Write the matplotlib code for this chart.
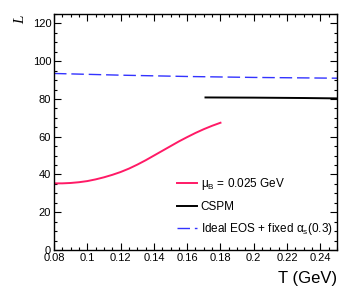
import matplotlib
matplotlib.use("Agg")
import matplotlib.pyplot as plt
from matplotlib.ticker import MultipleLocator

plt.rcParams['font.family'] = ['Liberation Sans', 'DejaVu Sans']
plt.rcParams['mathtext.fontset'] = 'custom'
plt.rcParams['mathtext.rm'] = 'Liberation Sans'
plt.rcParams['mathtext.it'] = 'Liberation Sans'
plt.rcParams['mathtext.bf'] = 'Liberation Sans:bold'

# pink curve: mu_B = 0.025 GeV
T_mu = [0.080, 0.085, 0.090, 0.095, 0.100, 0.105, 0.110, 0.115, 0.120, 0.125, 0.130,
        0.135, 0.140, 0.145, 0.150, 0.155, 0.160, 0.165, 0.170, 0.175, 0.180]
L_mu = [35.3, 35.3, 35.5, 35.9, 36.5, 37.4, 38.5, 39.8, 41.3, 43.1, 45.2,
        47.5, 50.0, 52.5, 55.0, 57.5, 59.8, 62.0, 64.0, 65.8, 67.4]

# CSPM
T_cspm = [0.171, 0.200, 0.230, 0.250]
L_cspm = [80.8, 80.7, 80.5, 80.3]

# Ideal EOS + fixed alpha_s
T_id = [0.080, 0.120, 0.160, 0.200, 0.250]
L_id = [93.5, 92.6, 91.9, 91.4, 91.0]

labels = ['μ$_{B}$ = 0.025 GeV', 'CSPM', 'Ideal EOS + fixed α$_{s}$(0.3)']

fig = plt.figure(figsize=(3.47, 3.01), dpi=100)
ax = fig.add_axes([54/347, 1-250/301, (337-54)/347, (250-14)/301])

ax.plot(T_mu, L_mu, color='#ff1a66', lw=1.4, solid_joinstyle='round', label=labels[0])
ax.plot(T_cspm, L_cspm, color='black', lw=1.4, label=labels[1])
ax.plot(T_id, L_id, color='#3333ff', lw=1.0, dashes=(9, 3.5), label=labels[2])

ax.set_xlim(0.08, 0.25)
ax.set_ylim(0, 125)
ax.xaxis.set_minor_locator(MultipleLocator(0.005))
ax.yaxis.set_major_locator(MultipleLocator(20))
ax.yaxis.set_minor_locator(MultipleLocator(5))
ax.set_xticks([0.08, 0.10, 0.12, 0.14, 0.16, 0.18, 0.20, 0.22, 0.24])
ax.set_xticklabels(['0.08', '0.1', '0.12', '0.14', '0.16', '0.18', '0.2', '0.22', '0.24'])
ax.tick_params(which='both', direction='in', top=True, right=True, labelsize=8, pad=2)
ax.tick_params(which='major', length=5, width=0.8)
ax.tick_params(which='minor', length=2.5, width=0.8)
for s in ax.spines.values():
    s.set_linewidth(1.0)

fig.text(337/347, 1-279/301, 'T (GeV)', ha='right', va='center', fontsize=12)
fig.text(21/347, 1-20/301, 'L', ha='center', va='center', fontsize=11, rotation=90,
         family='Liberation Serif', style='italic')

leg = ax.legend(loc='lower left', bbox_to_anchor=(0.418, 0.035), frameon=False,
                fontsize=8.5, handlelength=1.7, handletextpad=0.3, labelspacing=0.7,
                borderaxespad=0)

fig.savefig('out.png', dpi=100)
